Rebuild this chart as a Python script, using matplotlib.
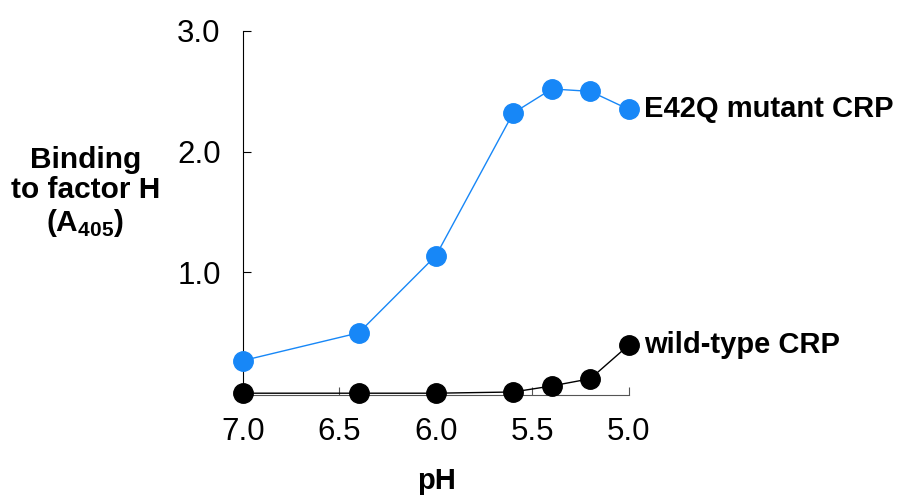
import matplotlib.pyplot as plt

plt.rcParams['font.family'] = ['Liberation Sans', 'DejaVu Sans']
plt.rcParams['mathtext.fontset'] = 'custom'
plt.rcParams['mathtext.rm'] = 'Liberation Sans:bold'
plt.rcParams['mathtext.bf'] = 'Liberation Sans:bold'

# 数据
ph = [7.0, 6.4, 6.0, 5.6, 5.4, 5.2, 5.0]
mutant = [0.27, 0.50, 1.14, 2.32, 2.52, 2.50, 2.35]
wild = [0.00, 0.00, 0.00, 0.01, 0.06, 0.12, 0.40]
xticks = [7.0, 6.5, 6.0, 5.5, 5.0]
yticks = [1.0, 2.0, 3.0]

fig = plt.figure(figsize=(8.98, 4.96), dpi=100)
ax = fig.add_axes([0.2706, 0.2036, 0.4298, 0.7339])

blue = '#1787F7'
ax.plot(ph, wild, color='black', lw=1, marker='o', ms=14, clip_on=False, zorder=4)
ax.plot(ph, mutant, color=blue, lw=1, marker='o', ms=14, clip_on=False, zorder=5)

ax.set_xlim(7.0, 5.0)
ax.set_ylim(-0.015, 3.0)
ax.set_xticks(xticks)
ax.set_xticklabels([f'{t:.1f}' for t in xticks])
ax.set_yticks(yticks)
ax.set_yticklabels([f'{t:.1f}' for t in yticks])

for s in ['top', 'right']:
    ax.spines[s].set_visible(False)
ax.spines['bottom'].set_color('#555555')
ax.spines['left'].set_color('black')
ax.tick_params(axis='both', direction='in', labelsize=22.5, length=6)
ax.tick_params(axis='x', colors='#555555', labelcolor='black', pad=16)
ax.tick_params(axis='y', pad=16)

ax.annotate('E42Q mutant CRP', (ph[-1], mutant[-1]), xytext=(11, 0),
            textcoords='offset points', va='center', ha='left',
            fontsize=21, fontweight='bold', annotation_clip=False)
ax.annotate('wild-type CRP', (ph[-1], wild[-1]), xytext=(11, 0),
            textcoords='offset points', va='center', ha='left',
            fontsize=21, fontweight='bold', annotation_clip=False)

fig.text(0.095, 0.612, 'Binding\nto factor H\n' + r'(A$_{\mathbf{405}}$)',
         ha='center', va='center', fontsize=21.5, fontweight='bold',
         linespacing=1.1)
fig.text(0.486, 0.03, 'pH', ha='center', va='center', fontsize=21,
         fontweight='bold')

fig.savefig('out.png', dpi=100)
